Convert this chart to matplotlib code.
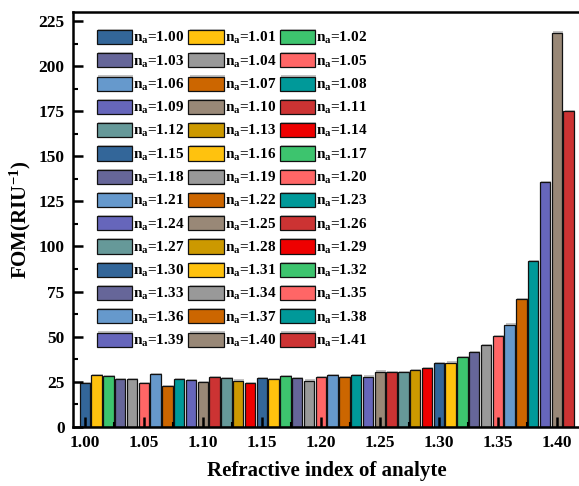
import matplotlib.pyplot as plt
import matplotlib.patheffects as pe
from matplotlib.ticker import MultipleLocator

plt.rcParams['font.family'] = ['Liberation Serif', 'DejaVu Serif']
plt.rcParams['font.weight'] = 'bold'
plt.rcParams['mathtext.fontset'] = 'custom'
plt.rcParams['mathtext.rm'] = 'Liberation Serif:bold'
plt.rcParams['mathtext.default'] = 'regular'

# refractive index of analyte and figure of merit
n_a = [1.00, 1.01, 1.02, 1.03, 1.04, 1.05, 1.06, 1.07, 1.08, 1.09,
       1.10, 1.11, 1.12, 1.13, 1.14, 1.15, 1.16, 1.17, 1.18, 1.19,
       1.20, 1.21, 1.22, 1.23, 1.24, 1.25, 1.26, 1.27, 1.28, 1.29,
       1.30, 1.31, 1.32, 1.33, 1.34, 1.35, 1.36, 1.37, 1.38, 1.39,
       1.40, 1.41]
fom = [24.1, 28.5, 28.1, 26.3, 26.3, 24.4, 29.4, 22.7, 26.4, 25.7,
       24.6, 27.5, 26.8, 25.6, 24.4, 26.8, 26.6, 27.9, 26.8, 25.6,
       27.4, 28.7, 27.4, 28.5, 27.8, 30.6, 30.1, 30.4, 31.3, 32.4,
       35.2, 35.6, 38.4, 41.3, 45.3, 50.2, 56.7, 70.7, 92.1, 135.5,
       218.7, 175.3]

palette = ['#336699', '#FFC20E', '#3DC46E', '#666699', '#999999',
           '#FF6666', '#6699CC', '#CC6600', '#009999', '#6666BB',
           '#998877', '#CC3333', '#669999', '#CC9900', '#EE0000']

fig = plt.figure(figsize=(5.79, 4.86), dpi=100)
ax = fig.add_axes([0.126, 0.122, 0.876, 0.853])

shadow = [pe.SimplePatchShadow(offset=(0.8, 0.8), shadow_rgbFace='#888888', alpha=0.5), pe.Normal()]
bars = []
for i, (x, y) in enumerate(zip(n_a, fom)):
    b = ax.bar(x, y, width=0.0088, color=palette[i % len(palette)],
               edgecolor='#111111', linewidth=0.9, label=f'n$_\\mathregular{{a}}$={x:.2f}',
               path_effects=shadow)
    bars.append(b)

ax.set_xlim(0.99, 1.4198)
ax.set_ylim(0, 230)
ax.xaxis.set_minor_locator(MultipleLocator(0.025))
ax.yaxis.set_major_locator(MultipleLocator(25))
ax.yaxis.set_minor_locator(MultipleLocator(12.5))
xt = [1.00, 1.05, 1.10, 1.15, 1.20, 1.25, 1.30, 1.35, 1.40]
ax.set_xticks(xt)
ax.set_xticklabels([f'{v:.2f}' for v in xt])
ax.tick_params(which='major', direction='in', length=7, width=1.8, labelsize=12.5, pad=6)
ax.tick_params(which='minor', direction='in', length=3.5, width=1.5)
for s in ax.spines.values():
    s.set_linewidth(1.8)

ax.set_xlabel('Refractive index of analyte', fontsize=15, fontweight='bold', labelpad=7)
ax.set_ylabel('FOM(RIU$^{-1}$)', fontsize=15, fontweight='bold', labelpad=4)

# legend reads row by row, three entries per row
ncol = 3
order = [i for c in range(ncol) for i in range(c, len(bars), ncol)]
labels = [bars[i].get_label() for i in order]
ax.legend([bars[i] for i in order], labels, ncol=ncol, loc='upper left',
          bbox_to_anchor=(0.047, 0.957), frameon=False,
          fontsize=11, handlelength=2.3, handleheight=1.05, handletextpad=0.08,
          columnspacing=0.25, labelspacing=0.45, borderaxespad=0, borderpad=0)

fig.savefig('out.png', dpi=100)
